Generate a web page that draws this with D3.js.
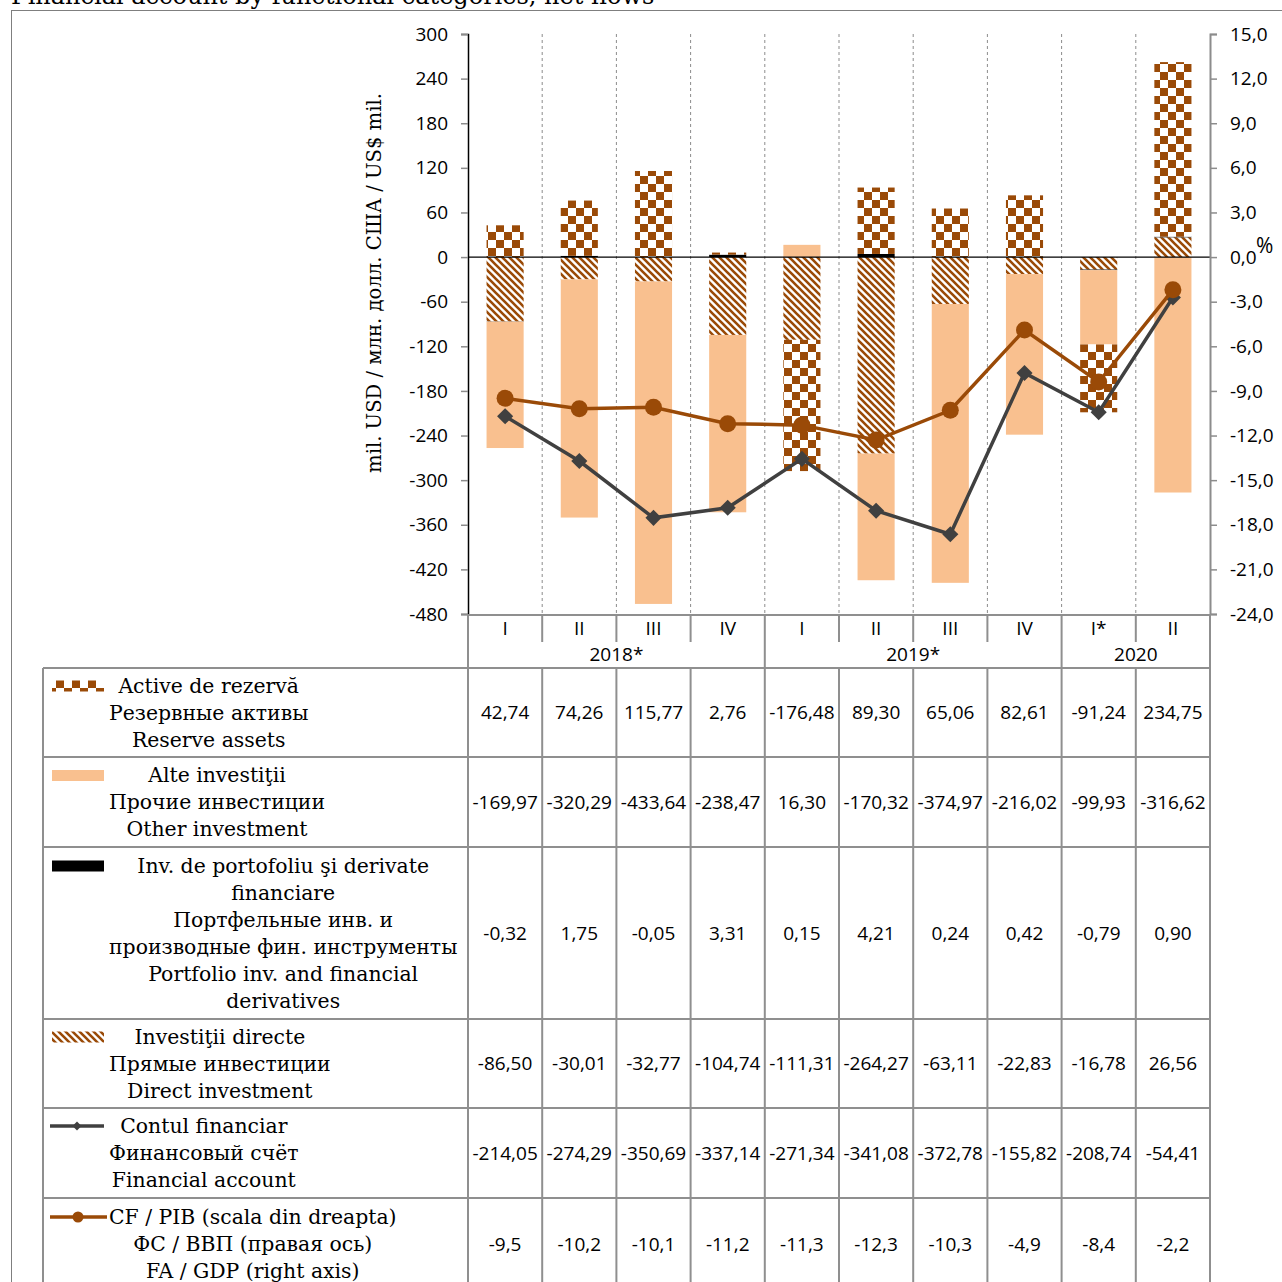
<!DOCTYPE html>
<html><head><meta charset="utf-8">
<script src="https://cdn.jsdelivr.net/npm/d3@7"></script>
<style>body{margin:0;background:#fff} svg{display:block}</style>
</head><body><svg id="c" width="1282" height="1282"></svg>
<script>
// ---------- data ----------
const categories = ["I","II","III","IV","I","II","III","IV","I*","II"];
const yearLabels = ["2018*","2019*","2020"];
const yearSpans = [[0,4],[4,8],[8,10]];
const reserveAssets   = [42.74, 74.26, 115.77, 2.76, -176.48, 89.30, 65.06, 82.61, -91.24, 234.75];
const otherInvestment = [-169.97, -320.29, -433.64, -238.47, 16.30, -170.32, -374.97, -216.02, -99.93, -316.62];
const portfolioInv    = [-0.32, 1.75, -0.05, 3.31, 0.15, 4.21, 0.24, 0.42, -0.79, 0.90];
const directInv       = [-86.50, -30.01, -32.77, -104.74, -111.31, -264.27, -63.11, -22.83, -16.78, 26.56];
const financialAcc    = [-214.05, -274.29, -350.69, -337.14, -271.34, -341.08, -372.78, -155.82, -208.74, -54.41];
const faToGdp         = [-9.5, -10.2, -10.1, -11.2, -11.3, -12.3, -10.3, -4.9, -8.4, -2.2];
const leftTicks  = [300,240,180,120,60,0,-60,-120,-180,-240,-300,-360,-420,-480];
const rightTicks = [15,12,9,6,3,0,-3,-6,-9,-12,-15,-18,-21,-24];
const labelReserve   = ["Active de rezervă","Резервные активы","Reserve assets"];
const labelOther     = ["Alte investiţii","Прочие инвестиции","Other investment"];
const labelPortfolio = ["Inv. de portofoliu şi derivate","financiare","Портфельные инв. и","производные фин. инструменты","Portfolio inv. and financial","derivatives"];
const labelDirect    = ["Investiţii directe","Прямые инвестиции","Direct investment"];
const labelFA        = ["Contul financiar","Финансовый счёт","Financial account"];
const labelCF        = ["CF / PIB (scala din dreapta)","ФС / ВВП (правая ось)","FA / GDP (right axis)"];
const yTitle = "mil. USD / млн. долл. США / US$ mil.";
const chartTitle = "Financial account by functional categories, net flows";

// ---------- styles ----------
const SERIF = "'DejaVu Serif','Liberation Serif',serif";
const SANS = "'Open Sans','Noto Sans',sans-serif";
const BROWN = "#9A4A07", PEACH = "#F9C08F", DARK = "#404040", GRID = "#8c8c8c", TBL = "#8f8f8f";

const svg = d3.select("#c");
const loc = d3.formatLocale({decimal:",", thousands:"", grouping:[3], currency:["",""], minus:"-"});
const f2 = loc.format(".2f"), f1 = loc.format(".1f"), fInt = loc.format("d");

// patterns
const defs = svg.append("defs");
const chk = defs.append("pattern").attr("id","chk").attr("patternUnits","userSpaceOnUse")
  .attr("width",16).attr("height",16);
chk.append("rect").attr("width",16).attr("height",16).attr("fill","#fff");
chk.append("rect").attr("width",8).attr("height",8).attr("fill",BROWN);
chk.append("rect").attr("x",8).attr("y",8).attr("width",8).attr("height",8).attr("fill",BROWN);
const hat = defs.append("pattern").attr("id","hat").attr("patternUnits","userSpaceOnUse")
  .attr("width",7).attr("height",7);
hat.append("rect").attr("width",7).attr("height",7).attr("fill","#fff");
hat.append("path").attr("d","M-1,-1 L8,8 M-4,3 L4,11 M3,-4 L11,4").attr("stroke",BROWN).attr("stroke-width",2.6);

// ---------- scales ----------
const X0 = 468, X1 = 1210, YT = 34, YB = 614;
const x = d3.scaleBand().domain(d3.range(categories.length)).range([X0,X1]).paddingInner(0.5).paddingOuter(0.25);
const step = x.step();
const yL = d3.scaleLinear().domain([-480,300]).range([YB,YT]);
const yR = d3.scaleLinear().domain([-24,15]).range([YB,YT]);

// title
svg.append("text").attr("x",11).attr("y",4).attr("font-family",SERIF).attr("font-size",24).text(chartTitle);
// outer frame
svg.append("rect").attr("x",11.5).attr("y",10.5).attr("width",1300).attr("height",1300)
  .attr("fill","none").attr("stroke","#7f7f7f").attr("stroke-width",1);

// grid (dashed category separators)
svg.append("g").selectAll("line").data(d3.range(1,categories.length)).join("line")
  .attr("x1",i=>X0+i*step).attr("x2",i=>X0+i*step).attr("y1",YT).attr("y2",YB)
  .attr("stroke",GRID).attr("stroke-width",1).attr("stroke-dasharray","3,3");

// stacked bars
const rows = d3.range(categories.length).map(i=>({i, direct:directInv[i], portfolio:portfolioInv[i], other:otherInvestment[i], reserve:reserveAssets[i]}));
const keys = ["direct","portfolio","other","reserve"];
const fills = {direct:"url(#hat)", portfolio:"#000", other:PEACH, reserve:"url(#chk)"};
const stack = d3.stack().keys(keys).offset(d3.stackOffsetDiverging)(rows);
svg.append("g").selectAll("g").data(stack).join("g").attr("fill",s=>fills[s.key])
  .selectAll("rect").data(s=>s).join("rect")
  .attr("x",d=>x(d.data.i)).attr("width",x.bandwidth())
  .attr("y",d=>yL(Math.max(d[0],d[1]))).attr("height",d=>Math.abs(yL(d[0])-yL(d[1])));

// zero line
svg.append("line").attr("x1",X0).attr("x2",X1).attr("y1",yL(0)).attr("y2",yL(0)).attr("stroke","#000").attr("stroke-width",1.3);

// lines
const cx = i=>x(i)+x.bandwidth()/2;
svg.append("path").datum(financialAcc).attr("fill","none").attr("stroke",DARK).attr("stroke-width",3.5)
  .attr("d",d3.line().x((d,i)=>cx(i)).y(d=>yL(d)));
svg.append("g").selectAll("path").data(financialAcc).join("path")
  .attr("transform",(d,i)=>`translate(${cx(i)},${yL(d)}) rotate(45)`)
  .attr("d",d3.symbol(d3.symbolSquare,130)).attr("fill",DARK);
svg.append("path").datum(faToGdp).attr("fill","none").attr("stroke",BROWN).attr("stroke-width",3.5)
  .attr("d",d3.line().x((d,i)=>cx(i)).y(d=>yR(d)));
svg.append("g").selectAll("circle").data(faToGdp).join("circle")
  .attr("cx",(d,i)=>cx(i)).attr("cy",d=>yR(d)).attr("r",8.5).attr("fill",BROWN);

// left axis
const gL = svg.append("g").attr("transform",`translate(${X0},0)`)
  .call(d3.axisLeft(yL).tickValues(leftTicks).tickFormat(fInt).tickSize(7).tickPadding(13));
gL.select(".domain").attr("stroke","#000").attr("stroke-width",1.5);
gL.selectAll(".tick line").attr("stroke","#8c8c8c").attr("stroke-width",1.5);
gL.selectAll("text").attr("font-family",SANS).attr("font-size",19).attr("fill","#000");

// right axis
const gR = svg.append("g").attr("transform",`translate(${X1},0)`)
  .call(d3.axisRight(yR).tickValues(rightTicks).tickFormat(f1).tickSize(7).tickPadding(13));
gR.select(".domain").attr("stroke","#8c8c8c").attr("stroke-width",2);
gR.selectAll(".tick line").attr("stroke","#8c8c8c").attr("stroke-width",1.5);
gR.selectAll("text").attr("font-family",SANS).attr("font-size",19).attr("fill","#000");
svg.append("text").attr("x",1256).attr("y",253).attr("font-family",SANS).attr("font-size",21).text("%");

// y title
svg.append("text").attr("transform",`translate(381,283) rotate(-90)`).attr("text-anchor","middle")
  .attr("font-family",SERIF).attr("font-size",19.6).text(yTitle);

// ---------- table ----------
const T = svg.append("g").attr("stroke",TBL).attr("stroke-width",2);
const rowEdges = [668,757,847,1019,1108,1198,1290];
const LX = 43;
T.append("line").attr("x1",X0).attr("x2",X1).attr("y1",YB+1).attr("y2",YB+1);
d3.range(categories.length+1).forEach(i=>{
  const xx = X0+i*step;
  const full = i===0||i===categories.length||yearSpans.some(s=>s[0]===i);
  T.append("line").attr("x1",xx).attr("x2",xx).attr("y1",YB).attr("y2",full?1290:642);
  if(!full) T.append("line").attr("x1",xx).attr("x2",xx).attr("y1",668).attr("y2",1290);
});
T.append("line").attr("x1",LX).attr("x2",LX).attr("y1",668).attr("y2",1290);
rowEdges.forEach(y=>T.append("line").attr("x1",LX).attr("x2",X1).attr("y1",y).attr("y2",y));

svg.append("g").selectAll("text").data(categories).join("text")
  .attr("x",(d,i)=>cx(i)).attr("y",628).attr("dy","0.35em").attr("text-anchor","middle")
  .attr("font-family",SANS).attr("font-size",19).text(d=>d);
svg.append("g").selectAll("text").data(yearLabels).join("text")
  .attr("x",(d,i)=>X0+(yearSpans[i][0]+yearSpans[i][1])/2*step).attr("y",654).attr("dy","0.35em")
  .attr("text-anchor","middle").attr("font-family",SANS).attr("font-size",19).text(d=>d);

const tableRows = [
  {lines:labelReserve, vals:reserveAssets, fmt:f2, sw:"chk"},
  {lines:labelOther, vals:otherInvestment, fmt:f2, sw:"peach"},
  {lines:labelPortfolio, vals:portfolioInv, fmt:f2, sw:"black"},
  {lines:labelDirect, vals:directInv, fmt:f2, sw:"hat"},
  {lines:labelFA, vals:financialAcc, fmt:f2, sw:"fa"},
  {lines:labelCF, vals:faToGdp, fmt:f1, sw:"cf"}
];
const LH = 27;
tableRows.forEach((r,k)=>{
  const mid = (rowEdges[k]+rowEdges[k+1])/2;
  const y0 = mid - (r.lines.length-1)/2*LH;
  const g = svg.append("g");
  const ts = g.selectAll("text").data(r.lines).join("text")
    .attr("y",(d,j)=>y0+j*LH).attr("dy","0.35em").attr("text-anchor","middle")
    .attr("font-family",SERIF).attr("font-size",20.4).text(d=>d);
  let maxW = 0; ts.each(function(){maxW=Math.max(maxW,this.getComputedTextLength());});
  ts.attr("x",109+maxW/2);
  svg.append("g").selectAll("text").data(r.vals).join("text")
    .attr("x",(d,i)=>cx(i)).attr("y",mid).attr("dy","0.35em").attr("text-anchor","middle")
    .attr("font-family",SANS).attr("font-size",19).text(d=>r.fmt(d));
  const sy = y0;
  if(r.sw==="chk"||r.sw==="hat"||r.sw==="peach"||r.sw==="black"){
    const fill = r.sw==="chk"?"url(#chk)":r.sw==="hat"?"url(#hat)":r.sw==="peach"?PEACH:"#000";
    svg.append("rect").attr("x",52).attr("y",sy-5).attr("width",52).attr("height",11).attr("fill",fill);
  } else if(r.sw==="fa"){
    svg.append("line").attr("x1",50).attr("x2",104).attr("y1",sy).attr("y2",sy).attr("stroke",DARK).attr("stroke-width",3.5);
    svg.append("path").attr("transform",`translate(77,${sy}) rotate(45)`).attr("d",d3.symbol(d3.symbolSquare,40)).attr("fill",DARK);
  } else {
    svg.append("line").attr("x1",50).attr("x2",107).attr("y1",sy).attr("y2",sy).attr("stroke",BROWN).attr("stroke-width",3.5);
    svg.append("circle").attr("cx",78).attr("cy",sy).attr("r",5.5).attr("fill",BROWN);
  }
});
</script></body></html>
